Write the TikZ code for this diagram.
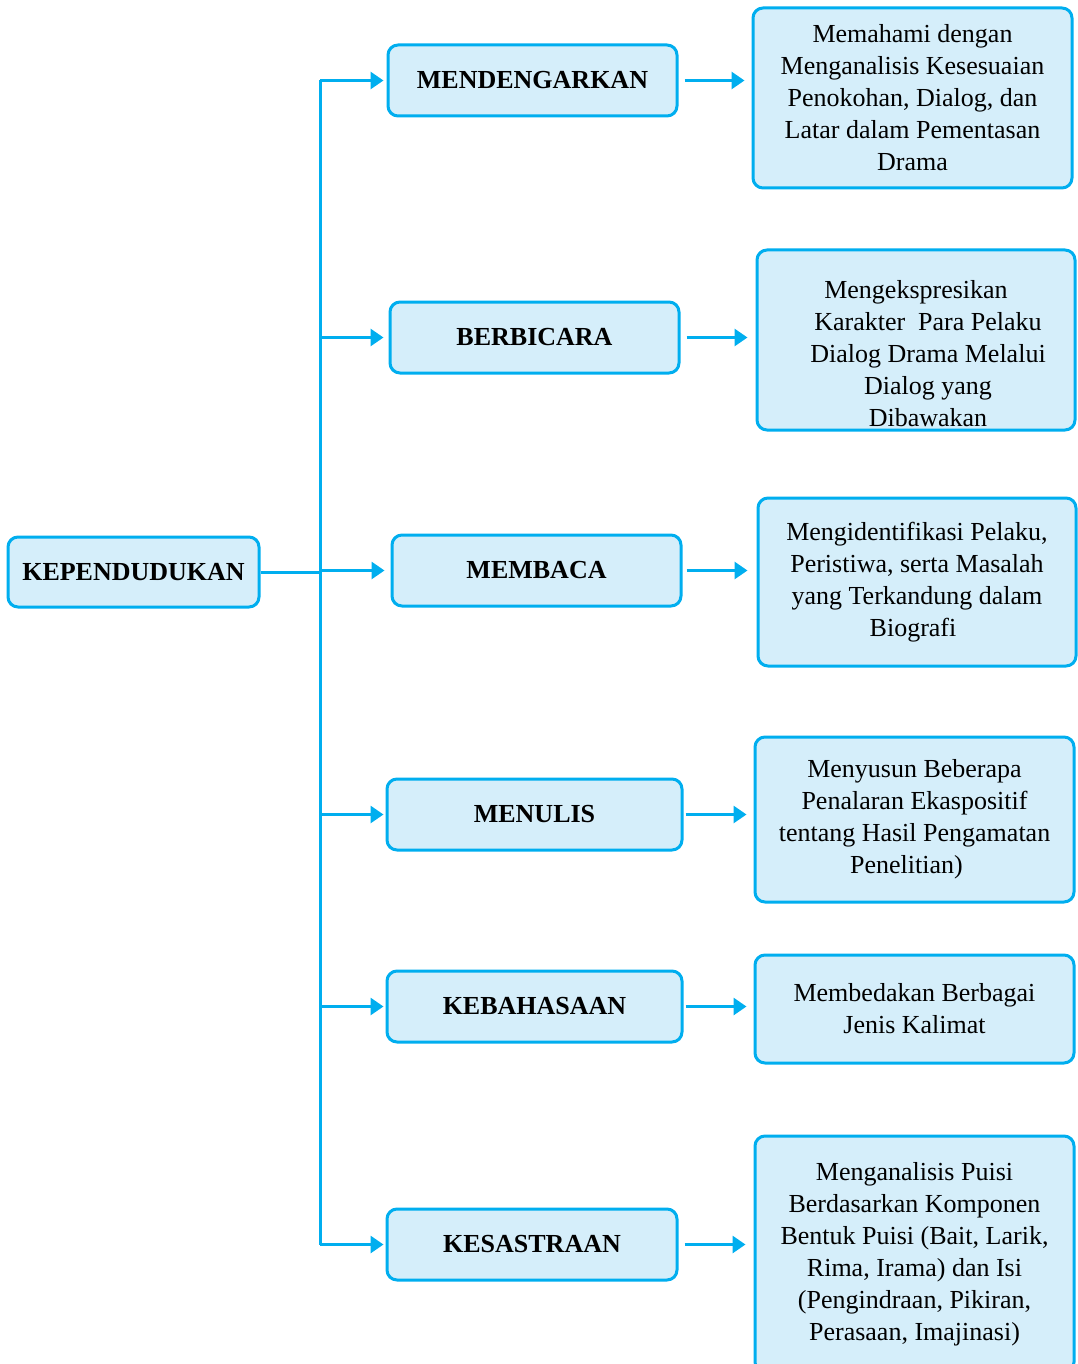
\documentclass[tikz,border=0pt]{standalone}
\usepackage{fontspec}
\setmainfont{Liberation Serif}
\usetikzlibrary{arrows.meta}
\definecolor{garisbiru}{RGB}{0,174,239}
\definecolor{isibiru}{RGB}{213,238,250}
\begin{document}
\begin{tikzpicture}[x=1pt,y=-1pt,
		kotak/.style={draw=garisbiru,fill=isibiru,line width=3pt,rounded corners=10pt,inner sep=0pt},
		judul/.style={kotak,font=\fontsize{26}{32}\selectfont\bfseries},
		uraian/.style={kotak,font=\fontsize{26}{32}\selectfont,align=center},
		panah/.style={draw=garisbiru,line width=3pt,-{Triangle[length=13pt,width=17pt]}}]
				\useasboundingbox (0,0) rectangle (1077,1364);
				
				% Kotak utama
				\node[judul,minimum width=251pt,minimum height=70pt] (kep) at (133.5,572) {KEPENDUDUKAN};
				
				% Kotak aspek
				\node[judul,minimum width=289pt,minimum height=71pt] (dengar) at (532.5,80.5) {MENDENGARKAN};
				\node[judul,minimum width=289pt,minimum height=71pt] (bicara) at (534.5,337.5) {BERBICARA};
				\node[judul,minimum width=289pt,minimum height=71pt] (baca) at (536.5,570.5) {MEMBACA};
				\node[judul,minimum width=295pt,minimum height=71pt] (tulis) at (534.5,814.5) {MENULIS};
				\node[judul,minimum width=295pt,minimum height=71pt] (bahasa) at (534.5,1006.5) {KEBAHASAAN};
				\node[judul,minimum width=290pt,minimum height=71pt] (sastra) at (532,1244.5) {KESASTRAAN};
				
				% Kotak uraian
				\node[uraian,minimum width=319pt,minimum height=180pt] (dengarisi) at (912.5,98) {Memahami dengan\\Menganalisis Kesesuaian\\Penokohan, Dialog, dan\\Latar dalam Pementasan\\Drama};
				\node[uraian,minimum width=318pt,minimum height=180pt,
					label={[font=\fontsize{26}{32}\selectfont,align=center,yshift=-14pt]center:{Mengekspresikan\\\hspace*{24pt}Karakter\ \ Para Pelaku\\\hspace*{24pt}Dialog Drama Melalui\\\hspace*{24pt}Dialog yang\\\hspace*{24pt}Dibawakan}}] (bicaraisi) at (916,340) {};
				\node[uraian,minimum width=318pt,minimum height=168pt] (bacaisi) at (917,582) {Mengidentifikasi Pelaku,\\Peristiwa, serta Masalah\\yang Terkandung dalam\\Biografi\hspace*{8pt}};
				\node[uraian,minimum width=319pt,minimum height=165pt] (tulisisi) at (914.5,819.5) {Menyusun Beberapa\\Penalaran Ekaspositif\\tentang Hasil Pengamatan\\Penelitian)\hspace*{16pt}};
				\node[uraian,minimum width=319pt,minimum height=108pt] (bahasaisi) at (914.5,1009) {Membedakan Berbagai\\Jenis Kalimat};
				\node[uraian,minimum width=319pt,minimum height=236pt] (sastraisi) at (914.5,1254) {Menganalisis Puisi\\Berdasarkan Komponen\\Bentuk Puisi (Bait, Larik,\\Rima, Irama) dan Isi\\(Pengindraan, Pikiran,\\Perasaan, Imajinasi)};
				
				% Batang penghubung
				\coordinate (cabang) at (320,572);
				\draw[garisbiru,line width=3pt] (kep.east) -- (cabang);
				\draw[garisbiru,line width=3pt] (cabang |- dengar.west) -- (cabang |- sastra.west);
				
				% Panah ke aspek
				\draw[panah,shorten >=3pt] (cabang |- dengar.west) -- (dengar.west);
				\draw[panah,shorten >=5pt] (cabang |- bicara.west) -- (bicara.west);
				\draw[panah,shorten >=6pt] (cabang |- baca.west) -- (baca.west);
				\draw[panah,shorten >=2pt] (cabang |- tulis.west) -- (tulis.west);
				\draw[panah,shorten >=2pt] (cabang |- bahasa.west) -- (bahasa.west);
				\draw[panah,shorten >=2pt] (cabang |- sastra.west) -- (sastra.west);
				
				% Panah ke uraian
				\draw[panah,shorten <=6pt,shorten >=7pt] (dengar.east) -- (dengar.east -| dengarisi.west);
				\draw[panah,shorten <=6pt,shorten >=8pt] (bicara.east) -- (bicara.east -| bicaraisi.west);
				\draw[panah,shorten <=4pt,shorten >=9pt] (baca.east) -- (baca.east -| bacaisi.west);
				\draw[panah,shorten <=2pt,shorten >=7pt] (tulis.east) -- (tulis.east -| tulisisi.west);
				\draw[panah,shorten <=2pt,shorten >=7pt] (bahasa.east) -- (bahasa.east -| bahasaisi.west);
				\draw[panah,shorten <=6pt,shorten >=8pt] (sastra.east) -- (sastra.east -| sastraisi.west);
			\end{tikzpicture}
\end{document}
